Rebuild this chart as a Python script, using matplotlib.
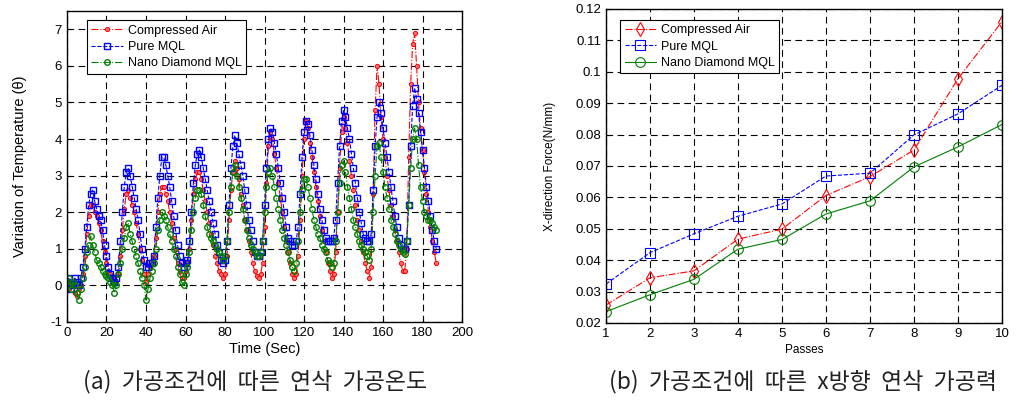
import numpy as np
import matplotlib
matplotlib.use('Agg')
from matplotlib import pyplot as plt

plt.rcParams['font.family'] = ['Liberation Sans', 'DejaVu Sans']
plt.rcParams['axes.unicode_minus'] = False

# (a) temperature variation, sampled every 1 s
time_sec = np.arange(0, 188)
air_temp = [0.0, -0.1, 0.1, 0.0, -0.2, -0.3, -0.1, 0.0,
            0.3, 0.8, 1.4, 1.9, 2.2,
            2.2, 2.0, 1.9, 1.7, 1.5, 1.2, 0.9, 0.6, 0.4, 0.3, 0.2,
            0.2, 0.1, 0.3,
            0.8, 1.5, 2.1, 2.5, 2.6,
            2.4, 2.2, 2.0, 1.7, 1.4, 1.0, 0.7, 0.3, 0.1,
            0.3, 0.5, 0.6, 0.8,
            1.3, 2.0, 2.5, 2.7, 2.7,
            2.5, 2.3, 2.0, 1.7, 1.3, 1.0, 0.6, 0.4, 0.2,
            0.2, 0.4, 0.6, 1.0,
            1.8, 2.5, 2.9, 3.1, 3.1,
            2.9, 2.6, 2.3, 2.0, 1.7, 1.4, 1.1, 0.8, 0.6, 0.4, 0.3, 0.2,
            0.3, 0.8,
            1.8, 2.6, 3.1, 3.4,
            3.2, 2.9, 2.5, 2.2, 1.8, 1.5, 1.2, 0.9, 0.6, 0.4, 0.25,
            0.2, 0.3, 0.6,
            1.6, 2.8, 3.8, 4.2,
            4.0, 3.6, 3.2, 2.8, 2.4, 2.0, 1.6, 1.2, 0.9, 0.6, 0.3, 0.2,
            0.3, 0.8,
            1.8, 3.0, 4.0, 4.5,
            4.3, 3.9, 3.5, 3.1, 2.7, 2.3, 1.9, 1.5, 1.2, 0.9, 0.6, 0.4, 0.2,
            0.3, 0.9,
            2.0, 3.2, 4.2, 4.6,
            4.3, 3.9, 3.4, 3.0, 2.6, 2.2, 1.8, 1.5, 1.2, 0.9, 0.6, 0.4, 0.2,
            0.5, 2.5, 4.8, 6.0,
            5.5, 4.6, 4.0, 3.5, 3.0, 2.6, 2.2, 1.9, 1.5, 1.2, 0.9, 0.6, 0.4, 0.4,
            1.0, 3.5, 5.5, 6.6, 6.9,
            6.0, 5.0, 4.3, 3.7, 3.1, 2.5, 2.0, 1.6, 1.2, 0.9, 0.6]
pure_temp = [0.1, 0.2, -0.1, 0.0, 0.2, 0.1, 0.0, 0.2,
             0.5, 1.0, 1.6, 2.2, 2.5,
             2.6, 2.3, 2.1, 1.9, 1.8, 1.5, 1.1, 0.8, 0.5, 0.3, 0.2,
             0.1, 0.2, 0.5,
             1.2, 2.0, 2.7, 3.1, 3.2,
             3.0, 2.7, 2.4, 2.1, 1.8, 1.4, 1.0, 0.7, 0.5,
             0.5, 0.6, 0.6, 0.8,
             1.6, 2.4, 3.0, 3.5, 3.5,
             3.3, 3.0, 2.7, 2.3, 1.9, 1.5, 1.1, 0.8, 0.6,
             0.5, 0.6, 0.7, 1.2,
             2.0, 2.8, 3.3, 3.6, 3.7,
             3.5, 3.2, 2.9, 2.6, 2.3, 2.0, 1.7, 1.4, 1.1, 0.9, 0.7, 0.6,
             0.7, 1.2,
             2.2, 3.2, 3.8, 4.1,
             3.9, 3.6, 3.3, 3.0, 2.6, 2.2, 1.8, 1.5, 1.2, 0.9, 0.8,
             0.8, 0.9, 1.2,
             2.2, 3.2, 4.0, 4.3,
             4.2, 3.9, 3.6, 3.2, 2.8, 2.4, 2.0, 1.6, 1.3, 1.2, 1.1, 1.1,
             1.2, 1.6,
             2.5, 3.5, 4.2, 4.5,
             4.4, 4.1, 3.7, 3.3, 2.9, 2.5, 2.1, 1.8, 1.5, 1.3, 1.2, 1.2, 1.2,
             1.3, 1.8,
             2.8, 3.8, 4.5, 4.8,
             4.6, 4.3, 4.0, 3.6, 3.2, 2.8, 2.4, 2.0, 1.7, 1.4, 1.3, 1.2, 1.2,
             1.4, 2.6, 3.8, 4.6,
             5.0, 4.7, 4.3, 3.9, 3.5, 3.1, 2.7, 2.3, 1.9, 1.6, 1.3, 1.1, 1.0, 1.0,
             1.2, 2.2, 3.8, 4.9, 5.4,
             5.1, 4.7, 4.2, 3.7, 3.2, 2.7, 2.3, 1.9, 1.5, 1.2, 1.0]
nano_temp = [0.0, 0.2, -0.1, 0.1, 0.0, -0.2, -0.4, -0.1,
             0.2, 0.5, 0.9, 1.1, 1.35,
             1.1, 0.9, 0.7, 0.6, 0.5, 0.4, 0.3, 0.25, 0.2, 0.1, 0.0,
             -0.2, 0.0, 0.3,
             0.6, 1.0, 1.3, 1.6, 1.7,
             1.4, 1.2, 1.0, 0.8, 0.6, 0.4, 0.2, 0.0, -0.4,
             -0.1, 0.2, 0.4, 0.6,
             1.0, 1.5, 1.8, 2.0, 1.9,
             1.8, 1.6, 1.4, 1.2, 1.0, 0.8, 0.5, 0.3, 0.1,
             0.0, 0.3, 0.5, 0.9,
             1.5, 2.0, 2.4, 2.6, 2.6,
             2.5, 2.2, 1.9, 1.6, 1.4, 1.3, 1.2, 1.1, 1.0, 0.9, 0.8, 0.7,
             0.8, 1.2,
             2.0, 2.7, 3.1, 3.3,
             3.0, 2.7, 2.4, 2.1, 1.8, 1.5, 1.3, 1.1, 1.0, 0.9, 0.8,
             0.8, 0.9, 1.2,
             2.0, 2.7, 3.1, 3.2,
             3.0, 2.7, 2.4, 2.1, 1.8, 1.5, 1.3, 1.1, 0.9, 0.7, 0.5, 0.4,
             0.6, 1.2,
             2.0, 2.6, 2.9, 2.9,
             2.7, 2.4, 2.1, 1.8, 1.6, 1.4, 1.3, 1.1, 1.0, 0.9, 0.7, 0.6, 0.5,
             0.6, 1.2,
             2.0, 2.8, 3.3, 3.4,
             3.1, 2.7, 2.4, 2.1, 1.8, 1.6, 1.4, 1.2, 1.1, 1.0, 0.9, 0.8, 0.7,
             1.0, 2.0, 3.0, 3.8,
             3.9, 3.5, 3.1, 2.7, 2.4, 2.1, 1.8, 1.6, 1.4, 1.2, 1.1, 1.0, 0.9, 0.85,
             1.2, 2.2, 3.2, 4.0, 4.3,
             4.0, 3.3, 2.7, 2.3, 2.0, 1.9, 1.8, 1.8, 1.7, 1.6, 1.5]

# (b) x-direction force per pass
passes = [1, 2, 3, 4, 5, 6, 7, 8, 9, 10]
air_force = [0.0257, 0.0344, 0.0366, 0.0467, 0.0499, 0.0606, 0.0666, 0.0751, 0.0978, 0.1160]
pure_force = [0.0324, 0.0424, 0.0484, 0.0540, 0.0579, 0.0668, 0.0677, 0.0799, 0.0866, 0.0957]
nano_force = [0.0236, 0.0290, 0.0339, 0.0435, 0.0466, 0.0547, 0.0589, 0.0697, 0.0761, 0.0832]

labels = ['Compressed Air', 'Pure MQL', 'Nano Diamond MQL']
red, blue, green = '#ff0000', '#0000ff', '#007f00'
grid_style = dict(color='black', linestyle=(0, (6, 4)), linewidth=0.8)

fig = plt.figure(figsize=(10.26, 4.05), dpi=100)

# ---- left panel
ax1 = fig.add_axes([0.0653, 0.205, 0.385, 0.768])
ax1.plot(time_sec, air_temp, color=red, linestyle='-.', linewidth=0.8,
         marker='o', markersize=3, markerfacecolor='#ff7070', markeredgewidth=0.7,
         label=labels[0])
ax1.plot(time_sec, pure_temp, color=blue, linestyle='--', linewidth=0.8,
         marker='s', markersize=5, markerfacecolor='none', markeredgewidth=1.0,
         label=labels[1])
ax1.plot(time_sec, nano_temp, color=green, linestyle='-.', linewidth=0.8,
         marker='o', markersize=4, markerfacecolor='none', markeredgewidth=1.0,
         label=labels[2])
ax1.set_xlim(0, 200)
ax1.set_ylim(-1, 7.5)
ax1.set_xticks(np.arange(0, 201, 20))
ax1.set_yticks(np.arange(-1, 8, 1))
ax1.grid(True, **grid_style)
ax1.tick_params(labelsize=9.5, direction='in', length=3)
ax1.set_xlabel('Time (Sec)', fontsize=10.5, labelpad=2)
ax1.set_ylabel('Variation of Temperature (\u03b8)', fontsize=10.5, labelpad=17)
leg1 = ax1.legend(loc='upper left', fontsize=9, frameon=True, fancybox=False,
                  edgecolor='black', framealpha=1, borderpad=0.35, labelspacing=0.35,
                  handlelength=2.5, handletextpad=0.4, bbox_to_anchor=(0.035, 0.99))
leg1.get_frame().set_linewidth(0.8)

# ---- right panel
ax2 = fig.add_axes([0.5906, 0.2025, 0.386, 0.7753])
ax2.plot(passes, air_force, color=red, linestyle='-.', linewidth=0.8,
         marker='d', markersize=7, markerfacecolor='none', markeredgewidth=0.8,
         label=labels[0])
ax2.plot(passes, pure_force, color=blue, linestyle='--', linewidth=0.8,
         marker='s', markersize=7, markerfacecolor='none', markeredgewidth=0.8,
         label=labels[1])
ax2.plot(passes, nano_force, color=green, linestyle='-', linewidth=0.8,
         marker='o', markersize=7, markerfacecolor='none', markeredgewidth=0.8,
         label=labels[2])
ax2.set_xlim(1, 10)
ax2.set_ylim(0.02, 0.12)
ax2.set_xticks(passes)
ax2.set_yticks(np.arange(0.02, 0.121, 0.01))
ax2.set_yticklabels(['0.02', '0.03', '0.04', '0.05', '0.06', '0.07', '0.08',
                     '0.09', '0.1', '0.11', '0.12'])
ax2.grid(True, **grid_style)
ax2.tick_params(labelsize=9.5, direction='in', length=3)
ax2.set_xlabel('Passes', fontsize=8.5, labelpad=3)
ax2.set_ylabel('X-direction Force(N/mm)', fontsize=8.5, labelpad=14)
leg2 = ax2.legend(loc='upper left', fontsize=9, frameon=True, fancybox=False,
                  edgecolor='black', framealpha=1, borderpad=0.35, labelspacing=0.35,
                  handlelength=2.5, handletextpad=0.4, bbox_to_anchor=(0.02, 0.985))
leg2.get_frame().set_linewidth(0.8)

for ax in (ax1, ax2):
    for sp in ax.spines.values():
        sp.set_linewidth(1.0)

# captions
cap_font = ['Noto Sans CJK KR', 'DejaVu Sans']
fig.text(255 / 1026, 1 - 382 / 405, '(a)  가공조건에  따른  연삭  가공온도',
         family=cap_font, fontsize=16.5, ha='center', va='center', color='#222222')
fig.text(803 / 1026, 1 - 382 / 405, '(b)  가공조건에  따른  x방향  연삭  가공력',
         family=cap_font, fontsize=16.5, ha='center', va='center', color='#222222')

plt.savefig('out.png', dpi=100)
